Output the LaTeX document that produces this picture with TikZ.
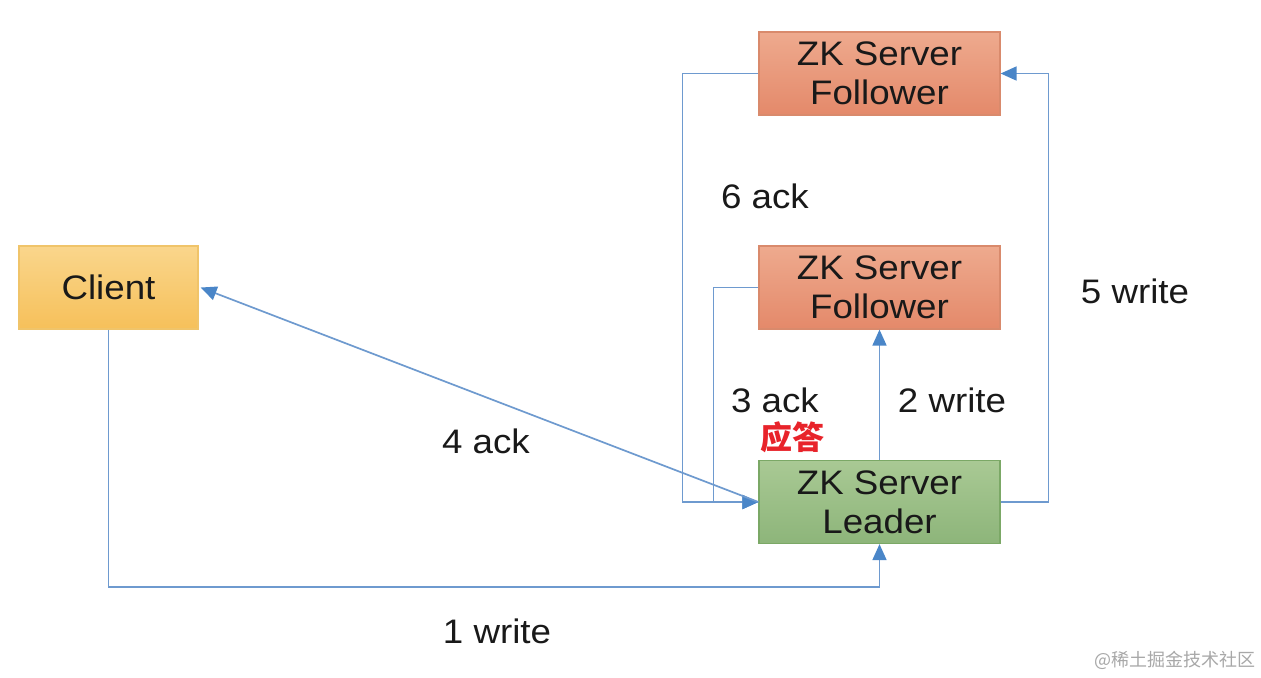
\documentclass[tikz,border=0pt]{standalone}
\usepackage{fontspec}
\setmainfont[FakeStretch=1.08]{Liberation Sans}
\newfontfamily\cjk{Noto Sans CJK SC}
\usetikzlibrary{arrows.meta}
\definecolor{linec}{HTML}{6E9ACF}
\definecolor{cliTop}{HTML}{FAD68C}
\definecolor{cliBot}{HTML}{F6C05A}
\definecolor{cliBd}{HTML}{F0C46A}
\definecolor{folTop}{HTML}{EEAA8E}
\definecolor{folBot}{HTML}{E4896A}
\definecolor{folBd}{HTML}{D98A6C}
\definecolor{ldrTop}{HTML}{A9C994}
\definecolor{ldrBot}{HTML}{8DB57A}
\definecolor{ldrBd}{HTML}{7BA866}
\definecolor{redtxt}{HTML}{E8232A}
\definecolor{wmark}{HTML}{A8A8A8}
\definecolor{tipc}{HTML}{4A86C8}
\tikzset{
  box/.style={draw, line width=0.6pt, align=center, inner sep=0pt,
    font=\fontsize{17}{19.5}\selectfont, text=black!90},
  clientbox/.style={box, minimum width=89.5pt, minimum height=41.5pt,
    top color=cliTop, bottom color=cliBot, draw=cliBd},
  folbox/.style={box, minimum width=120.5pt, minimum height=41.5pt,
    top color=folTop, bottom color=folBot, draw=folBd},
  ldrbox/.style={box, minimum width=120.5pt, minimum height=41.5pt,
    top color=ldrTop, bottom color=ldrBot, draw=ldrBd},
  conn/.style={draw=linec, line width=0.85pt},
  arr/.style={conn, -{Triangle[length=8pt,width=7pt,color=tipc]}},
  lbl/.style={font=\fontsize{17}{19.5}\selectfont, text=black!90, inner sep=0pt},
}
\begin{document}
\begin{tikzpicture}[x=0.5pt,y=-0.5pt]
\useasboundingbox[fill=white] (0,0) rectangle (1261,677);
\node[clientbox] (client) at (108.5,287.5) {Client};
\node[folbox] (ftop) at (879.5,73.5) {ZK Server\\Follower};
\node[folbox] (fmid) at (879.5,287.5) {ZK Server\\Follower};
\node[ldrbox] (leader) at (879.5,502) {ZK Server\\Leader};
\coordinate (low) at (0,587);
% 1 write
\draw[arr] (client.south) -- (client.south |- low) -| (leader.south);
% 2 write
\draw[arr] (leader.north) -- (fmid.south);
% 3 ack
\draw[arr] (fmid.west) -- ++(-45,0) |- (leader.west);
% 6 ack
\draw[arr] (ftop.west) -- ++(-76,0) |- (leader.west);
% 5 write
\draw[arr] (leader.east) -- ++(48,0) |- (ftop.east);
% 4 ack
\draw[arr] (leader.west) -- ([xshift=1pt]client.east);
% labels
\node[lbl] (l6) at (765,196) {6 ack};
\node[lbl] (l5) at (1135,291) {5 write};
\node[lbl] (l3) at (775,400) {3 ack};
\node[lbl] (l2) at (952,400) {2 write};
\node[lbl] (l4) at (486,441) {4 ack};
\node[lbl] (l1) at (497,631) {1 write};
\node[inner sep=0pt, text=redtxt, font=\cjk\bfseries\fontsize{16}{18}\selectfont] (yd) at (792,437) {应答};
\node[inner sep=0pt, text=wmark, font=\cjk\fontsize{9}{11}\selectfont] (wm) at (1175,660) {@稀土掘金技术社区};
\end{tikzpicture}
\end{document}
